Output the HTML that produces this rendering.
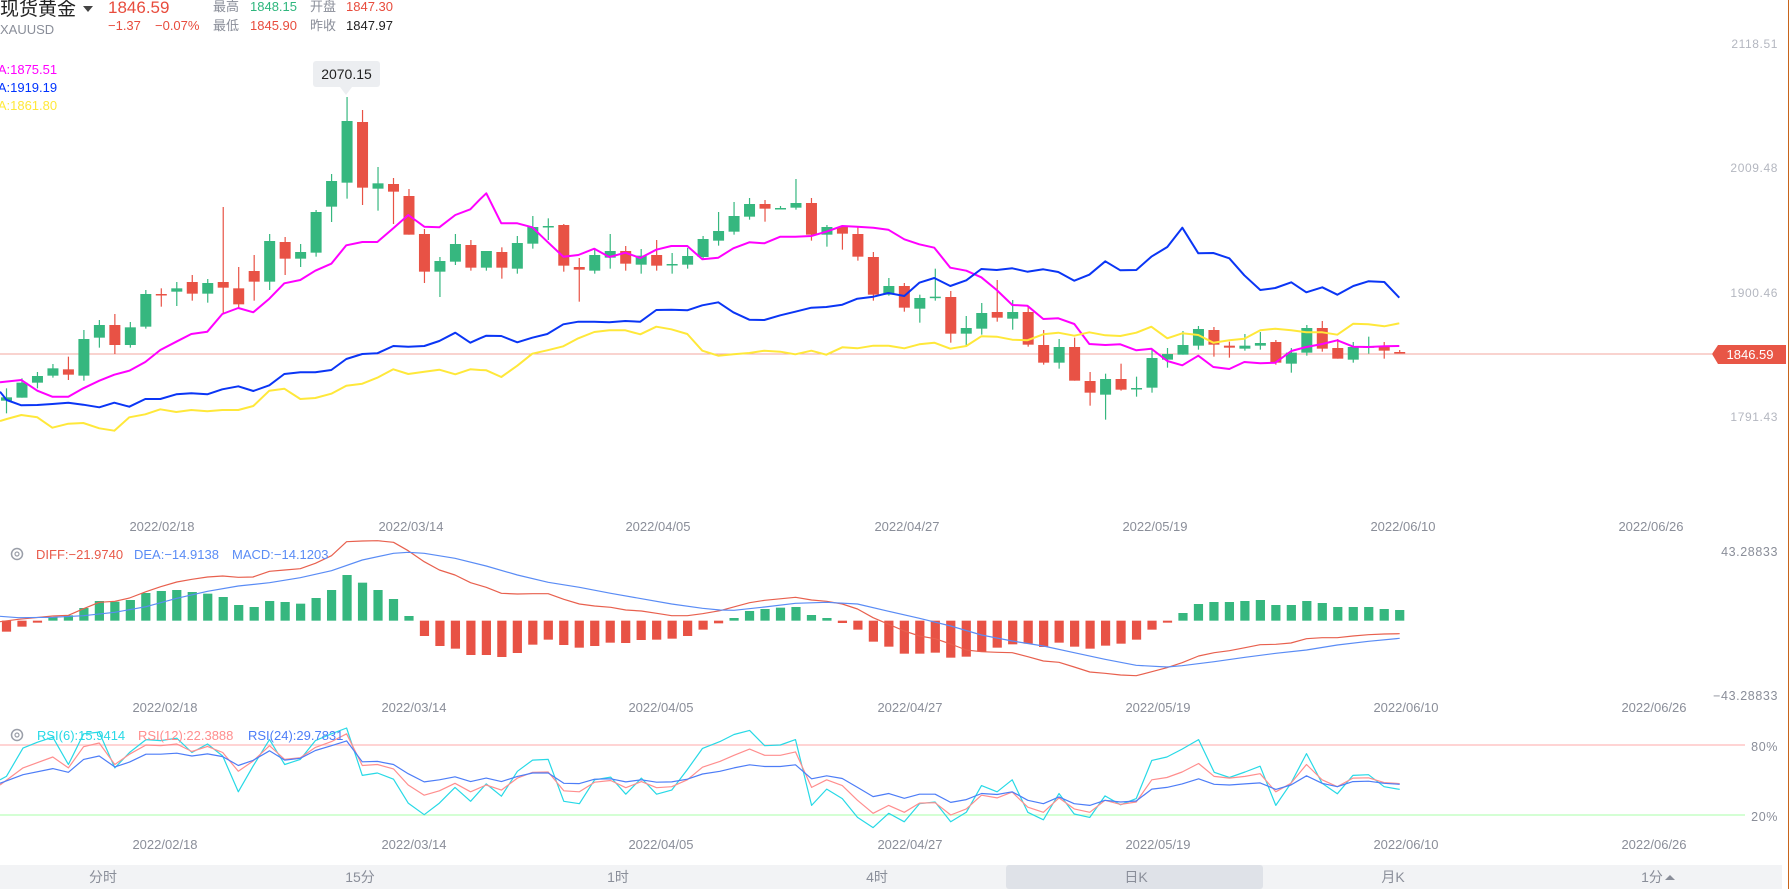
<!DOCTYPE html>
<html><head><meta charset="utf-8">
<style>
html,body{margin:0;padding:0;background:#fff;width:1789px;height:889px;overflow:hidden}
svg{display:block}
text{font-family:"Liberation Sans","Noto Sans CJK SC",sans-serif}
</style></head>
<body>
<svg id="s" width="1789" height="889" viewBox="0 0 1789 889" xmlns="http://www.w3.org/2000/svg">
<rect width="1789" height="889" fill="#fff"/>
<text x="0" y="15" font-size="19" fill="#222">现货黄金</text>
<path d="M83 6 L93 6 L88 12 Z" fill="#444"/>
<text x="108" y="13" font-size="17" fill="#e84c3d">1846.59</text>
<text x="0" y="34" font-size="13" fill="#8a8e99">XAUUSD</text>
<text x="213" y="11" font-size="13" fill="#8a8e99">最高</text>
<text x="250" y="11" font-size="13" fill="#2eb67d">1848.15</text>
<text x="310" y="11" font-size="13" fill="#8a8e99">开盘</text>
<text x="346" y="11" font-size="13" fill="#e84c3d">1847.30</text>
<text x="108" y="30" font-size="13" fill="#e84c3d">−1.37</text>
<text x="155" y="30" font-size="13" fill="#e84c3d">−0.07%</text>
<text x="213" y="30" font-size="13" fill="#8a8e99">最低</text>
<text x="250" y="30" font-size="13" fill="#e84c3d">1845.90</text>
<text x="310" y="30" font-size="13" fill="#8a8e99">昨收</text>
<text x="346" y="30" font-size="13" fill="#222">1847.97</text>
<text x="-13" y="74" font-size="13" fill="#ff00ff">MA:1875.51</text>
<text x="-13" y="92" font-size="13" fill="#0033ff">MA:1919.19</text>
<text x="-13" y="110" font-size="13" fill="#ffe93b">MA:1861.80</text>
<g font-size="12" fill="#b4b7c0" text-anchor="end" letter-spacing="0.6">
<text x="1778" y="48">2118.51</text>
<text x="1778" y="172">2009.48</text>
<text x="1778" y="297">1900.46</text>
<text x="1778" y="421">1791.43</text>
</g>
<g font-size="12.5" fill="#8a8e99" text-anchor="end" letter-spacing="0.6">
<text x="1778" y="556">43.28833</text>
<text x="1778" y="700">−43.28833</text>
<text x="1778" y="751">80%</text>
<text x="1778" y="821">20%</text>
</g>
<line x1="0" y1="354" x2="1712" y2="354" stroke="#f3a79f" stroke-width="1"/>
<path d="M1712 354 L1718 345 L1786 345 L1786 364 L1718 364 Z" fill="#e85646"/>
<text x="1750" y="359" font-size="13" fill="#fff" text-anchor="middle">1846.59</text>
<g id="dates" font-size="13" fill="#8a8e99" text-anchor="middle"></g>
<line x1="0" y1="745" x2="1745" y2="745" stroke="#ffc6c6" stroke-width="1.5"/>
<line x1="0" y1="815" x2="1745" y2="815" stroke="#c6ffc6" stroke-width="1.5"/>
<g id="g"></g>
<rect x="313" y="61" width="67" height="26" rx="3" fill="#eceef1"/>
<path d="M340 87 L352 87 L346 95 Z" fill="#eceef1"/>
<text x="346.5" y="79" font-size="14" fill="#222" text-anchor="middle">2070.15</text>
<circle cx="17" cy="554" r="5.5" fill="none" stroke="#9a9ea8" stroke-width="1.5"/>
<circle cx="17" cy="554" r="2" fill="none" stroke="#9a9ea8" stroke-width="1.2"/>
<text x="36" y="559" font-size="13" fill="#e85a4a">DIFF:−21.9740</text>
<text x="134" y="559" font-size="13" fill="#5a8cf5">DEA:−14.9138</text>
<text x="232" y="559" font-size="13" fill="#5a8cf5">MACD:−14.1203</text>
<circle cx="17" cy="735" r="5.5" fill="none" stroke="#9a9ea8" stroke-width="1.5"/>
<circle cx="17" cy="735" r="2" fill="none" stroke="#9a9ea8" stroke-width="1.2"/>
<text x="37" y="740" font-size="13" fill="#27d9e6">RSI(6):15.9414</text>
<text x="138" y="740" font-size="13" fill="#ff8e8e">RSI(12):22.3888</text>
<text x="248" y="740" font-size="13" fill="#4d7df7">RSI(24):29.7831</text>
<rect x="0" y="865" width="1782" height="24" fill="#f2f3f5"/>
<rect x="1006" y="865" width="257" height="24" rx="3" fill="#dfe2e8"/>
<g font-size="14" fill="#8a8e99" text-anchor="middle">
<text x="103" y="882">分时</text>
<text x="360" y="882">15分</text>
<text x="618" y="882">1时</text>
<text x="877" y="882">4时</text>
<text x="1136" y="882">日K</text>
<text x="1393" y="882">月K</text>
<text x="1652" y="882">1分</text>
</g>
<path d="M1665 880 L1675 880 L1670 875 Z" fill="#8a8e99"/>
<line x1="1788.5" y1="0" x2="1788.5" y2="889" stroke="#c8651b" stroke-width="1"/>
</svg>
<script>
var NS="http://www.w3.org/2000/svg";
var G=document.getElementById('g');
function el(t,a){var e=document.createElementNS(NS,t);for(var k in a)e.setAttribute(k,a[k]);G.appendChild(e);return e;}
function X(i){return 6.5+15.48*i;}
var GR='#36b77f',RD='#e85245';
var dg=document.getElementById('dates');
var dl=['2022/02/18','2022/03/14','2022/04/05','2022/04/27','2022/05/19','2022/06/10','2022/06/26'];
var dx=[162,411,658,907,1155,1403,1651];
[[531,0],[712,3],[849,3]].forEach(function(r){dl.forEach(function(d,i){var t=document.createElementNS(NS,'text');t.setAttribute('x',dx[i]+r[1]);t.setAttribute('y',r[0]);t.textContent=d;dg.appendChild(t);});});
var C3=[['g',1012,1022,985,1060],['g',968,1013,955,1013],['g',948,968,936,985],['g',925,947,912,953],['r',928,944,890,960],['g',837,947,810,962],['g',795,833,780,863],['r',795,855,762,882],['g',802,855,786,863],['g',702,800,690,806],['r',702,704,685,740],['g',685,695,666,738],['r',666,701,645,722],['g',669,701,657,728],['r',666,683,441,762],['r',685,733,621,745],['r',633,665,585,722],['g',543,665,522,690],['r',546,596,531,645],['g',576,596,552,621],['g',456,578,450,590],['g',363,440,342,486],['g',183,368,111,416],['r',186,383,150,435],['g',370,386,321,452],['r',372,395,354,492],['r',408,524,387,524],['r',522,635,507,669],['g',603,635,591,711],['g',552,605,522,615],['r',555,623,540,632]];
var C4=[['g',273,323,273,332],['r',276,323,262,356],['g',249,326,228,341],['g',201,251,168,266],['g',198,200,175,240],['r',195,317,192,335],['r',321,329,294,425],['g',285,332,264,341],['g',273,293,222,326],['r',273,311,258,332],['g',287,314,267,341],['r',285,317,240,332],['g',312,314,279,341],['g',288,314,264,326],['g',237,291,228,296],['g',213,242,156,257],['g',168,215,126,224],['g',132,170,114,179],['r',132,146,120,185],['g',144,146,138,148],['g',129,143,57,149],['r',129,224,114,242],['g',201,224,195,260],['r',201,221,195,269],['r',222,290,201,302],['r',291,404,276,422],['g',378,404,354,407],['r',378,443,369,455],['g',414,446,404,488],['g',410,412,326,422],['r',411,521,393,548]];
var C5=[['g',384,401,348,440],['g',339,386,309,404],['r',336,353,240,365],['g',336,356,300,389],['r',336,434,318,440],['r',435,488,390,494],['g',441,488,417,506],['r',441,542,413,542],['r',543,578,516,617],['g',537,584,521,659],['r',537,569,491,572],['g',564,566,530,590],['g',474,563,450,578],['g',462,479,444,503],['g',435,464,393,464],['g',387,437,378,449],['r',390,434,381,470],['r',437,443,425,473],['g',437,446,402,452],['g',429,437,396,449],['r',426,488,420,494],['g',458,491,444,518],['g',384,458,375,467],['r',384,446,363,455],['r',444,476,417,476],['g',441,479,426,488],['g',439,441,410,461],['r',440,452,426,476],['r',456,458,450,459]];
var cand=[];
C3.forEach(function(c){cand.push([c[0],60+c[1]/3,60+c[2]/3,60+c[3]/3,60+c[4]/3]);});
C4.forEach(function(c){cand.push([c[0],160+c[1]/3,160+c[2]/3,160+c[3]/3,160+c[4]/3]);});
C5.forEach(function(c){cand.push([c[0],200+c[1]/3,200+c[2]/3,200+c[3]/3,200+c[4]/3]);});
cand.forEach(function(c,i){var x=X(i),col=c[0]=='g'?GR:RD;
 el('line',{x1:x,x2:x,y1:c[3],y2:c[4],stroke:col,'stroke-width':1.2});
 var h=Math.max(1.5,c[2]-c[1]);el('rect',{x:x-5.5,y:c[1],width:11,height:h,fill:col});});
function poly(parts,color,w){var pts=[],last=-1e9;parts.forEach(function(p){var a=p[0],ox=p[1],oy=p[2],sx=p[3],sy=p[4];for(var k=0;k<a.length;k+=2){var x=ox+a[k]/sx,y=oy+a[k+1]/sy;if(x>last+0.5){pts.push(x.toFixed(1)+','+y.toFixed(1));last=x;}}});
 el('polyline',{points:pts.join(' '),fill:'none',stroke:color,'stroke-width':w,'stroke-linejoin':'round'});}
poly([[[0,967,64,960,112,992,157,1010,205,1010,250,985,298,962,343,944,388,932,436,906,481,870,529,845,574,822,622,815,667,762,715,744,760,757,808,716,853,670,901,660,946,632,994,611,1039,556,1087,546,1132,546,1180,505,1225,465,1273,500,1318,502,1366,465,1411,448,1440,418],0,60,3,3],
 [[79,100,124,190,172,190,217,202,262,245,310,290,355,285,403,266,448,291,496,278,541,294,589,269,634,258,682,258,727,298,775,293,820,265,868,247,913,250,961,230,1006,230,1054,228,1099,215,1147,198,1192,200,1240,203,1285,209,1333,238,1378,253,1423,263,1471,323],460,160,3,3],
 [[32,205,79,212,124,232,170,270,217,315,262,317,310,357,355,355,403,372,448,432,496,435,541,433,589,451,634,446,682,483,727,496,775,467,820,501,868,507,913,486,961,490,1006,488,1054,453,1099,441,1147,432,1192,421,1240,440,1285,441,1333,439,1378,438],940,200,3,3]],'#ff00ff',2);
poly([[[0,995,20,1020,64,1036,112,1035,157,1032,205,1028,250,1034,298,1042,343,1028,388,1040,436,1017,481,1017,529,1003,574,1000,622,1003,667,988,715,979,760,993,808,976,853,942,901,937,946,937,994,930,1039,897,1087,882,1132,880,1180,858,1225,860,1273,858,1318,843,1366,818,1411,848,1440,835],0,60,3,3],
 [[79,527,124,528,172,547,217,533,262,522,310,493,355,485,403,485,448,487,496,483,541,485,589,450,634,449,682,451,727,436,775,427,820,457,868,479,913,480,961,466,1006,455,1054,443,1099,441,1147,434,1192,416,1240,410,1285,399,1333,408,1378,368,1423,354,1471,378],460,160,3,3],
 [[32,259,79,241,124,207,170,210,217,205,262,215,310,208,355,216,403,242,448,224,496,184,541,211,589,210,634,170,682,141,727,83,775,160,820,159,868,175,913,226,961,270,1006,264,1054,247,1099,277,1147,262,1192,284,1240,258,1285,244,1333,246,1378,293],940,200,3,3]],'#0a35f5',2);
poly([[[0,1083,20,1077,64,1065,112,1072,157,1103,205,1091,250,1089,298,1105,343,1112,388,1072,436,1063,481,1048,529,1056,574,1050,622,1054,667,1050,715,1050,760,1038,808,992,853,986,901,1017,946,1014,994,1001,1039,977,1087,971,1132,953,1180,928,1225,942,1273,935,1318,929,1366,943,1411,928,1440,930],0,60,3,3],
 [[79,631,124,651,172,617,217,581,262,571,310,559,355,535,403,516,448,511,496,511,541,523,589,500,634,508,682,522,727,572,775,587,820,583,868,579,913,572,961,575,1006,583,1054,572,1099,584,1147,562,1192,565,1240,557,1285,557,1333,565,1378,553,1423,548,1471,566],460,160,3,3],
 [[32,447,79,438,124,409,170,410,217,419,262,421,310,403,355,398,403,407,448,397,496,406,541,408,589,398,634,380,682,415,727,400,775,405,820,428,868,421,913,416,961,391,1006,386,1054,391,1099,397,1147,397,1192,404,1240,371,1285,373,1333,379,1378,370],940,200,3,3]],'#ffe83a',2);
var MB=[305,290,278,262,256,234,213,215,210,189,183,180,186,191,201,225,231,213,216,221,204,180,135,158,180,207,258,318,348,356,375,375,381,369,344,329,345,353,348,338,339,330,329,326,318,299,280,264,243,237,233,231,255,264,279,299,335,350,371,371,368,383,380,365,353,343,341,351,338,350,356,347,341,329,299,278,249,222,216,216,213,210,225,225,213,219,231,231,231,237,240];
var Z=530+272/3;
MB.forEach(function(v,i){var y=530+v/3,x=X(i);var t=Math.min(y,Z),h=Math.max(1.5,Math.abs(y-Z));el('rect',{x:x-4.6,y:t,width:9.2,height:h,fill:v>272?RD:GR});});
poly([[[0,275,40,268,115,258,149,256,182,236,216,217,250,214,282,204,318,185,350,170,385,156,418,148,452,141,485,138,519,142,551,141,587,124,620,120,654,116,687,100,722,77,755,35,789,33,822,32,857,37,889,62,924,95,957,120,991,135,1025,158,1059,172,1092,190,1127,192,1160,191,1194,191,1228,208,1262,222,1295,228,1330,232,1363,240,1397,243,1430,250,1463,257,1497,257,1530,251,1568,242],0,530,2.178,3],
 [[108,218,141,211,208,202,243,210,276,214,310,222,343,237,377,263,411,283,445,303,478,318,512,326,546,342,580,360,613,365,647,367,680,368,714,380,748,393,782,397,815,411,849,426,882,430,916,435,950,437,984,425,1017,413,1050,398,1086,378,1120,368,1153,362,1187,353,1220,344,1254,343,1287,339,1321,326,1355,323,1388,323,1422,318,1456,314,1490,312,1524,311],700,530,2.178,3]],'#e8604e',1.2);
poly([[[0,259,40,263,115,262,182,257,250,247,318,230,385,205,452,184,519,168,587,158,654,143,722,122,789,90,857,70,889,67,924,70,991,85,1059,108,1127,135,1194,157,1262,172,1330,190,1397,206,1463,222,1530,235,1568,240],0,530,2.178,3],
 [[74,241,141,231,208,220,276,217,343,222,411,244,478,265,546,288,613,315,680,333,748,348,815,368,882,388,950,406,1017,411,1050,407,1120,395,1187,382,1254,370,1321,360,1388,345,1456,334,1524,325],700,530,2.178,3]],'#5a8cf5',1.2);
poly([[[0,190,14,180,50,97,81,80,115,65,149,145,182,55,216,50,250,155,282,110,318,72,350,75,385,68,418,110,452,85,485,120,519,225,551,150,587,72,620,145,654,130,687,75,722,55,755,38,789,177,822,170,857,188,889,258,924,292,957,258,991,212,1025,253,1059,202,1092,238,1127,165,1160,132,1194,130,1228,253,1262,260,1295,190,1330,182,1363,232,1397,185,1430,232,1463,220,1497,160,1530,98,1568,78],0,715,2.178,2.93],
 [[74,57,108,45,141,90,175,88,208,72,243,265,276,217,310,245,343,300,377,330,411,288,445,313,478,260,512,255,546,313,580,285,613,207,647,225,680,190,714,285,748,307,782,230,815,290,849,300,882,237,916,263,950,245,984,133,1017,123,1050,100,1086,72,1120,168,1153,183,1187,167,1220,150,1254,265,1287,200,1321,113,1355,200,1388,231,1422,177,1456,175,1490,210,1524,218],700,715,2.178,2.93]],'#27d9e6',1.2);
poly([[[0,205,50,155,115,123,149,155,182,93,216,82,250,145,282,115,318,88,350,90,385,85,418,107,452,92,485,110,519,165,551,135,587,90,620,130,654,125,687,95,722,78,755,55,789,148,822,145,857,158,889,205,924,235,957,222,991,200,1025,225,1059,205,1092,220,1127,185,1160,168,1194,167,1228,222,1262,225,1295,197,1330,192,1363,213,1397,195,1430,213,1463,210,1497,190,1530,153,1568,136],0,715,2.178,2.93],
 [[74,118,108,100,141,118,175,118,208,108,243,212,276,190,310,207,343,250,377,288,411,265,445,285,478,258,512,257,546,293,580,275,613,235,647,243,680,226,714,270,748,285,782,243,815,275,849,285,882,250,916,262,950,255,984,190,1017,183,1050,167,1086,142,1120,180,1153,185,1187,180,1220,172,1254,225,1287,200,1321,145,1355,190,1388,210,1422,185,1456,184,1490,198,1524,201],700,715,2.178,2.93]],'#ff8e8e',1.2);
poly([[[0,200,50,175,115,157,149,168,182,130,216,120,250,152,282,138,318,115,350,115,385,112,418,120,452,114,485,122,519,148,551,133,587,105,620,132,654,127,687,104,722,90,755,76,789,137,822,136,857,145,889,172,924,196,957,190,991,181,1025,195,1059,185,1092,195,1127,180,1160,170,1194,170,1228,200,1262,201,1295,188,1330,187,1363,196,1397,190,1430,197,1463,196,1497,188,1530,173,1568,165],0,715,2.178,2.93],
 [[74,155,108,146,141,151,175,151,208,146,243,187,276,178,310,186,343,212,377,239,411,230,445,244,478,232,512,232,546,256,580,248,613,230,647,233,680,225,714,250,748,260,782,240,815,260,849,265,882,250,916,255,950,252,984,217,1017,212,1050,202,1086,187,1120,203,1153,205,1187,202,1220,199,1254,218,1287,205,1321,178,1355,200,1388,210,1422,195,1456,194,1490,200,1524,203],700,715,2.178,2.93]],'#4d7df7',1.2);
</script>
</body></html>
